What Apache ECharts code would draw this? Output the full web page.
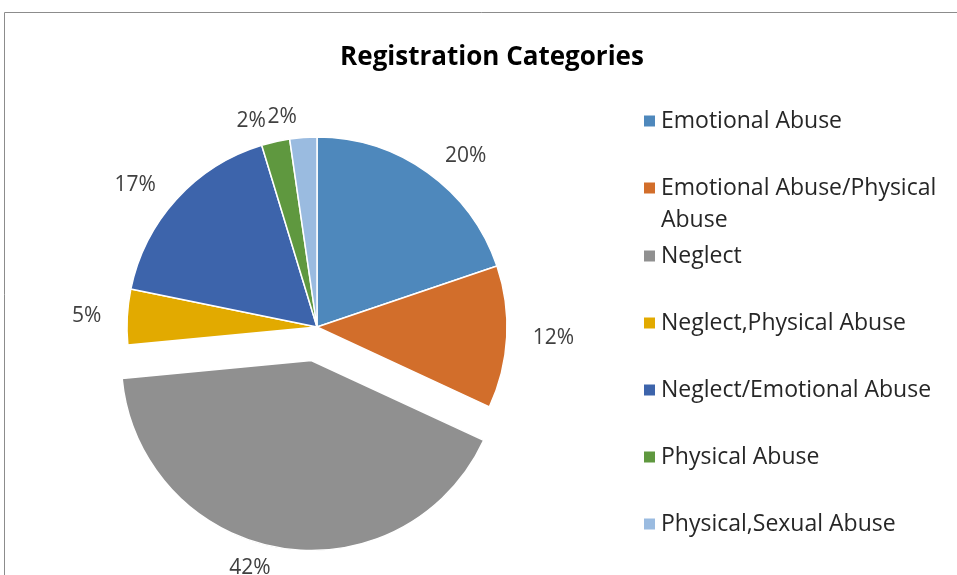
<!DOCTYPE html>
<html>
<head>
<meta charset="utf-8">
<script src="https://cdn.jsdelivr.net/npm/echarts@6/dist/echarts.min.js"></script>
<style>
  html, body { margin: 0; padding: 0; background: #fff; }
  #main { width: 957px; height: 575px; }
</style>
</head>
<body>
<div id="main"></div>
<script>
// data (share of registrations)
let categories = ["Emotional Abuse", "Emotional Abuse/Physical Abuse", "Neglect",
    "Neglect,Physical Abuse", "Neglect/Emotional Abuse", "Physical Abuse", "Physical,Sexual Abuse"];
let values = [19.8, 12.1, 41.6, 4.7, 17.1, 2.4, 2.3];
let colors = ["#4e88bc", "#d26e2b", "#909090", "#e2aa00", "#3d64ab", "#5f983f", "#9abbe0"];
let exploded = "Neglect";

let pieData = [];
for (let i = 0; i < categories.length; i++) {
    pieData.push({
        name: categories[i],
        value: values[i],
        selected: categories[i] === exploded,
        itemStyle: { color: colors[i] }
    });
}

let font = "'Open Sans', 'DejaVu Sans', sans-serif";
let legendText = { fontFamily: font, fontSize: 23, color: "#262626", lineHeight: 32 };

let myChart = echarts.init(document.getElementById("main"));
let option = {
    animation: false,
    title: {
        text: "Registration Categories",
        left: 487, top: 40, textAlign: "center",
        textStyle: { fontFamily: font, fontSize: 26, fontWeight: "bold", color: "#000" }
    },
    graphic: [{
        type: "rect", silent: true,
        shape: { x: 4.5, y: 12.5, width: 1000, height: 700 },
        style: { fill: null, stroke: "#8c8c8c", lineWidth: 1 }
    }],
    legend: [{
        data: [categories[0]],
        orient: "vertical", left: 642, top: 105, padding: 0,
        icon: "rect", itemWidth: 13, itemHeight: 13,
        textStyle: legendText
    }, {
        // empty first line so the icon sits level with the first text line
        data: [categories[1]],
        orient: "vertical", left: 642, top: 140, padding: 0,
        icon: "rect", itemWidth: 13, itemHeight: 13,
        formatter: function () { return " \nEmotional Abuse/Physical\nAbuse"; },
        textStyle: legendText
    }, {
        data: categories.slice(2),
        orient: "vertical", left: 642, top: 240, padding: 0,
        icon: "rect", itemWidth: 13, itemHeight: 13, itemGap: 35,
        textStyle: legendText
    }],
    series: [{
        type: "pie",
        center: [317, 327],
        radius: 190,
        startAngle: 90,
        selectedMode: "single",
        selectedOffset: 34,
        avoidLabelOverlap: false,
        data: pieData,
        itemStyle: { borderColor: "#fff", borderWidth: 1.5 },
        select: { itemStyle: { borderColor: "#fff", borderWidth: 1.5 } },
        label: {
            position: "outside",
            fontFamily: font, fontSize: 21, color: "#404040",
            formatter: function (p) { return Math.round(p.percent) + "%"; }
        },
        labelLine: { show: false, length: 21, length2: 0 },
        emphasis: { disabled: true }
    }]
};
myChart.setOption(option);
</script>
</body>
</html>
